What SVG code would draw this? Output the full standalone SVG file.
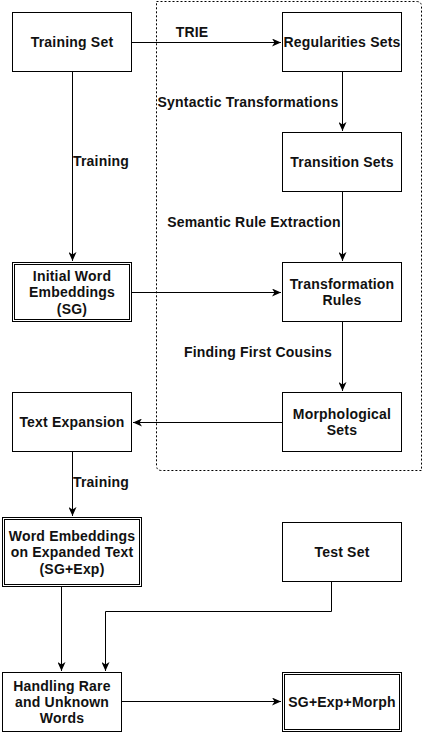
<svg xmlns="http://www.w3.org/2000/svg" width="424" height="733" viewBox="0 0 424 733">
<style>
.box{fill:#fff;stroke:#000;stroke-width:1}
.t{font-family:"Liberation Sans",Arial,sans-serif;font-size:14px;font-weight:bold;fill:#111;text-anchor:middle;letter-spacing:0.2px}
.c{fill:none;stroke:#000;stroke-width:1}
</style>
<defs>
<marker id="a" markerWidth="10" markerHeight="8" refX="9" refY="4" orient="auto" markerUnits="userSpaceOnUse">
<path d="M0,0 L9,4 L0,8 L2.5,4 Z" fill="#000"/>
</marker>
</defs>
<rect width="424" height="733" fill="#fff"/>
<path d="M156.5,1.5 H416.5 Q421.5,1.5 421.5,6.5 V470.5 H161.5 Q156.5,470.5 156.5,465.5 Z" fill="none" stroke="#000" stroke-dasharray="2 2"/>
<g id="connectors">
<path class="c" d="M132,42.5 H281" marker-end="url(#a)"/>
<path class="c" d="M72.5,71.5 V261" marker-end="url(#a)"/>
<path class="c" d="M342.5,71.5 V131" marker-end="url(#a)"/>
<path class="c" d="M342.5,191.5 V261" marker-end="url(#a)"/>
<path class="c" d="M132,292.5 H281" marker-end="url(#a)"/>
<path class="c" d="M342.5,321.5 V391" marker-end="url(#a)"/>
<path class="c" d="M282,422.5 H133" marker-end="url(#a)"/>
<path class="c" d="M72.5,451.5 V516" marker-end="url(#a)"/>
<path class="c" d="M61.5,587 V671" marker-end="url(#a)"/>
<path class="c" d="M331.5,581.5 V611.5 H105.5 V671" marker-end="url(#a)"/>
<path class="c" d="M122,701.5 H281" marker-end="url(#a)"/>
<text class="t" x="192" y="37">TRIE</text>
<text class="t" x="101" y="166">Training</text>
<text class="t" x="248" y="107">Syntactic Transformations</text>
<text class="t" x="254" y="227">Semantic Rule Extraction</text>
<text class="t" x="258" y="357">Finding First Cousins</text>
<text class="t" x="101" y="487">Training</text>
</g>
<g id="training-set"><rect class="box" x="12.5" y="12.5" width="119" height="59"/><text class="t" x="72" y="47">Training Set</text></g>
<g id="regularities-sets"><rect class="box" x="282.5" y="12.5" width="119" height="59"/><text class="t" x="342" y="47">Regularities Sets</text></g>
<g id="transition-sets"><rect class="box" x="282.5" y="132.5" width="119" height="59"/><text class="t" x="342" y="167">Transition Sets</text></g>
<g id="initial-word-embeddings"><rect class="box" x="12.5" y="262.5" width="119" height="59"/><rect class="box" x="14.5" y="264.5" width="115" height="55"/><text class="t" x="72" y="281">Initial Word</text><text class="t" x="72" y="297">Embeddings</text><text class="t" x="72" y="314">(SG)</text></g>
<g id="transformation-rules"><rect class="box" x="282.5" y="262.5" width="119" height="59"/><text class="t" x="342" y="289">Transformation</text><text class="t" x="342" y="305">Rules</text></g>
<g id="text-expansion"><rect class="box" x="12.5" y="392.5" width="119" height="59"/><text class="t" x="72" y="427">Text Expansion</text></g>
<g id="morphological-sets"><rect class="box" x="282.5" y="392.5" width="119" height="59"/><text class="t" x="342" y="419">Morphological</text><text class="t" x="342" y="435">Sets</text></g>
<g id="word-embeddings-expanded"><rect class="box" x="2.5" y="517.5" width="139" height="69"/><rect class="box" x="4.5" y="519.5" width="135" height="65"/><text class="t" x="72" y="541">Word Embeddings</text><text class="t" x="72" y="557">on Expanded Text</text><text class="t" x="72" y="574">(SG+Exp)</text></g>
<g id="test-set"><rect class="box" x="282.5" y="522.5" width="119" height="59"/><text class="t" x="342" y="557">Test Set</text></g>
<g id="handling-rare"><rect class="box" x="2.5" y="672.5" width="119" height="59"/><text class="t" x="62" y="691">Handling Rare</text><text class="t" x="62" y="707">and Unknown</text><text class="t" x="62" y="723">Words</text></g>
<g id="sg-exp-morph"><rect class="box" x="282.5" y="672.5" width="119" height="59"/><rect class="box" x="284.5" y="674.5" width="115" height="55"/><text class="t" x="342" y="707">SG+Exp+Morph</text></g>
</svg>
